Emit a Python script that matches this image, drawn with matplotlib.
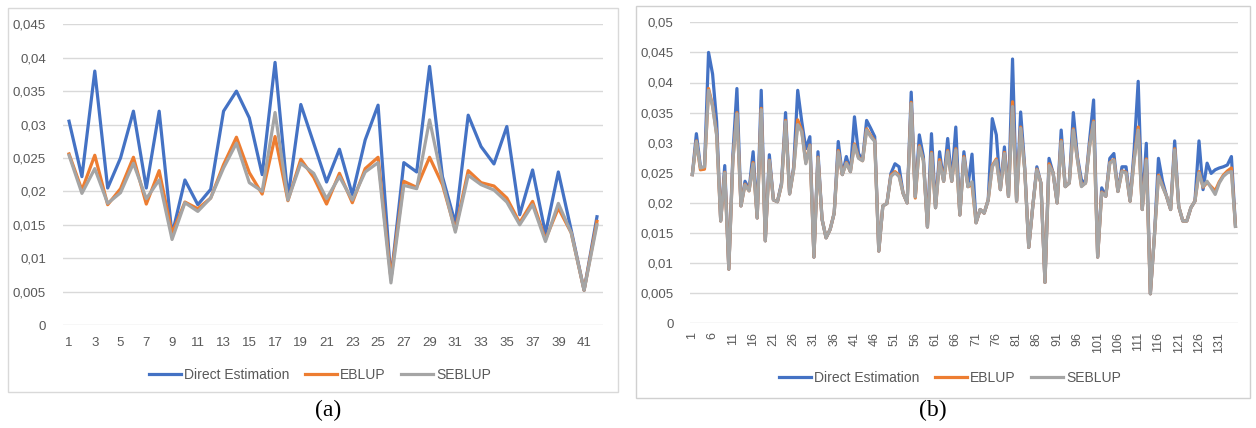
import numpy as np
import matplotlib
matplotlib.use("Agg")
import matplotlib.pyplot as plt
from matplotlib.patches import Rectangle
from matplotlib.ticker import FuncFormatter

plt.rcParams["font.family"] = ["Liberation Sans", "DejaVu Sans"]

# panel (a): 42 areas
a_direct = [0.0305, 0.0222, 0.0380, 0.0205, 0.0250, 0.0320, 0.0205, 0.0320, 0.0135, 0.0217,
            0.0180, 0.0203, 0.0320, 0.0350, 0.0310, 0.0225, 0.0393, 0.0190, 0.0330, 0.0272,
            0.0214, 0.0263, 0.0195, 0.0277, 0.0329, 0.0068, 0.0243, 0.0229, 0.0387, 0.0222,
            0.0152, 0.0314, 0.0267, 0.0241, 0.0297, 0.0165, 0.0232, 0.0137, 0.0229, 0.0142,
            0.0052, 0.0162]
a_eblup = [0.0256, 0.0202, 0.0254, 0.0180, 0.0204, 0.0251, 0.0181, 0.0231, 0.0137, 0.0184,
           0.0174, 0.0190, 0.0240, 0.0281, 0.0228, 0.0196, 0.0282, 0.0186, 0.0248, 0.0221,
           0.0181, 0.0227, 0.0183, 0.0234, 0.0251, 0.0070, 0.0215, 0.0206, 0.0251, 0.0210,
           0.0142, 0.0231, 0.0213, 0.0208, 0.0190, 0.0153, 0.0185, 0.0128, 0.0175, 0.0138,
           0.0052, 0.0155]
a_seblup = [0.0254, 0.0197, 0.0234, 0.0182, 0.0198, 0.0242, 0.0189, 0.0217, 0.0128, 0.0183,
            0.0170, 0.0190, 0.0235, 0.0272, 0.0213, 0.0200, 0.0318, 0.0187, 0.0242, 0.0227,
            0.0189, 0.0222, 0.0187, 0.0229, 0.0243, 0.0063, 0.0209, 0.0204, 0.0307, 0.0215,
            0.0139, 0.0224, 0.0210, 0.0202, 0.0184, 0.0150, 0.0180, 0.0125, 0.0182, 0.0138,
            0.0052, 0.0150]

# panel (b): 135 areas
b_direct = [0.0247, 0.0315, 0.0260, 0.0258, 0.0450, 0.0414, 0.0335, 0.0170, 0.0262, 0.0090,
            0.0280, 0.0390, 0.0195, 0.0236, 0.0222, 0.0285, 0.0175, 0.0387, 0.0137, 0.0280,
            0.0205, 0.0202, 0.0233, 0.0350, 0.0215, 0.0260, 0.0387, 0.0335, 0.0290, 0.0310,
            0.0110, 0.0285, 0.0173, 0.0142, 0.0156, 0.0183, 0.0302, 0.0247, 0.0277, 0.0252,
            0.0343, 0.0282, 0.0271, 0.0337, 0.0324, 0.0310, 0.0120, 0.0195, 0.0199, 0.0249,
            0.0265, 0.0260, 0.0216, 0.0200, 0.0384, 0.0210, 0.0313, 0.0277, 0.0160, 0.0315,
            0.0192, 0.0285, 0.0236, 0.0307, 0.0236, 0.0326, 0.0180, 0.0285, 0.0227, 0.0281,
            0.0167, 0.0189, 0.0183, 0.0205, 0.0340, 0.0313, 0.0222, 0.0293, 0.0211, 0.0439,
            0.0203, 0.0351, 0.0260, 0.0126, 0.0195, 0.0260, 0.0233, 0.0068, 0.0274, 0.0250,
            0.0200, 0.0321, 0.0227, 0.0233, 0.0350, 0.0277, 0.0238, 0.0233, 0.0304, 0.0371,
            0.0110, 0.0225, 0.0211, 0.0274, 0.0282, 0.0219, 0.0260, 0.0260, 0.0203, 0.0288,
            0.0402, 0.0189, 0.0299, 0.0049, 0.0145, 0.0274, 0.0236, 0.0211, 0.0189, 0.0303,
            0.0194, 0.0170, 0.0170, 0.0192, 0.0203, 0.0303, 0.0222, 0.0266, 0.0249, 0.0255,
            0.0258, 0.0260, 0.0263, 0.0277, 0.0161]
b_eblup = [0.0247, 0.0303, 0.0255, 0.0256, 0.0390, 0.0362, 0.0314, 0.0170, 0.0251, 0.0090,
           0.0271, 0.0350, 0.0195, 0.0231, 0.0220, 0.0267, 0.0175, 0.0357, 0.0137, 0.0271,
           0.0205, 0.0202, 0.0230, 0.0337, 0.0215, 0.0256, 0.0338, 0.0320, 0.0267, 0.0296,
           0.0110, 0.0276, 0.0173, 0.0142, 0.0156, 0.0183, 0.0287, 0.0247, 0.0267, 0.0252,
           0.0298, 0.0275, 0.0270, 0.0323, 0.0312, 0.0303, 0.0120, 0.0195, 0.0199, 0.0246,
           0.0252, 0.0246, 0.0216, 0.0200, 0.0367, 0.0208, 0.0295, 0.0271, 0.0160, 0.0284,
           0.0192, 0.0272, 0.0236, 0.0287, 0.0236, 0.0290, 0.0180, 0.0277, 0.0227, 0.0230,
           0.0167, 0.0189, 0.0183, 0.0205, 0.0262, 0.0273, 0.0222, 0.0284, 0.0211, 0.0368,
           0.0203, 0.0326, 0.0256, 0.0126, 0.0195, 0.0256, 0.0233, 0.0068, 0.0265, 0.0250,
           0.0200, 0.0304, 0.0227, 0.0233, 0.0323, 0.0273, 0.0228, 0.0233, 0.0295, 0.0336,
           0.0110, 0.0218, 0.0211, 0.0267, 0.0272, 0.0219, 0.0253, 0.0251, 0.0203, 0.0273,
           0.0326, 0.0189, 0.0273, 0.0049, 0.0145, 0.0246, 0.0228, 0.0211, 0.0189, 0.0290,
           0.0194, 0.0170, 0.0170, 0.0192, 0.0203, 0.0252, 0.0226, 0.0234, 0.0227, 0.0220,
           0.0235, 0.0246, 0.0253, 0.0258, 0.0161]
b_seblup = [0.0247, 0.0302, 0.0258, 0.0260, 0.0387, 0.0360, 0.0312, 0.0170, 0.0250, 0.0090,
            0.0270, 0.0348, 0.0195, 0.0230, 0.0220, 0.0265, 0.0175, 0.0355, 0.0137, 0.0270,
            0.0205, 0.0202, 0.0230, 0.0335, 0.0215, 0.0255, 0.0330, 0.0318, 0.0265, 0.0295,
            0.0110, 0.0275, 0.0173, 0.0142, 0.0156, 0.0183, 0.0285, 0.0247, 0.0266, 0.0252,
            0.0296, 0.0274, 0.0270, 0.0321, 0.0310, 0.0302, 0.0120, 0.0195, 0.0199, 0.0244,
            0.0250, 0.0244, 0.0216, 0.0200, 0.0365, 0.0210, 0.0293, 0.0270, 0.0160, 0.0282,
            0.0192, 0.0268, 0.0236, 0.0285, 0.0236, 0.0288, 0.0180, 0.0275, 0.0227, 0.0235,
            0.0167, 0.0189, 0.0183, 0.0205, 0.0260, 0.0271, 0.0222, 0.0282, 0.0211, 0.0360,
            0.0203, 0.0324, 0.0255, 0.0126, 0.0195, 0.0255, 0.0233, 0.0068, 0.0262, 0.0250,
            0.0200, 0.0302, 0.0227, 0.0233, 0.0321, 0.0272, 0.0227, 0.0233, 0.0293, 0.0334,
            0.0110, 0.0217, 0.0211, 0.0266, 0.0271, 0.0219, 0.0252, 0.0250, 0.0203, 0.0271,
            0.0321, 0.0189, 0.0271, 0.0049, 0.0145, 0.0244, 0.0227, 0.0211, 0.0189, 0.0288,
            0.0194, 0.0170, 0.0170, 0.0192, 0.0203, 0.0250, 0.0227, 0.0236, 0.0225, 0.0214,
            0.0233, 0.0244, 0.0250, 0.0252, 0.0161]

series_names = ["Direct Estimation", "EBLUP", "SEBLUP"]
colors = ["#4472C4", "#ED7D31", "#A5A5A5"]
TXT = "#595959"
GRID = "#D9D9D9"

W, H = 1256, 428
fig = plt.figure(figsize=(W / 100, H / 100), dpi=100)
fig.patch.set_facecolor("white")


def px_axes(x0, y0, x1, y1):
    # pixel box (top-left origin) -> figure axes
    return fig.add_axes([x0 / W, 1 - y1 / H, (x1 - x0) / W, (y1 - y0) / H])


def comma_fmt(v, pos):
    return f"{round(v, 4):g}".replace(".", ",")


def style(ax, ymax):
    ax.set_ylim(0, ymax)
    ax.set_yticks(np.round(np.arange(0, ymax + 1e-9, 0.005), 3))
    ax.yaxis.set_major_formatter(FuncFormatter(comma_fmt))
    ax.grid(axis="y", color=GRID, lw=1)
    ax.set_axisbelow(True)
    for s in ax.spines.values():
        s.set_visible(False)
    ax.tick_params(length=0, colors=TXT, labelsize=9.5)
    ax.tick_params(axis="y", pad=12)


def add_legend(ax, cx, cy):
    ax.legend(loc="center", bbox_to_anchor=(cx / W, 1 - cy / H), bbox_transform=fig.transFigure,
              ncol=3, frameon=False, fontsize=10, handlelength=2.3, columnspacing=1.1,
              handletextpad=0.25, labelcolor=TXT)


# panel frames
fig.patches.append(Rectangle((8 / W, 1 - 392 / H), 610 / W, 384 / H, transform=fig.transFigure,
                             fill=False, ec=GRID, lw=1))
fig.patches.append(Rectangle((636 / W, 1 - 398 / H), 614 / W, 392 / H, transform=fig.transFigure,
                             fill=False, ec="#D0D0D0", lw=1))

# (a)
ax1 = px_axes(62.6, 24.3, 603.4, 325)
xa = np.arange(1, len(a_direct) + 1)
for vals, name, c in zip([a_direct, a_eblup, a_seblup], series_names, colors):
    ax1.plot(xa, vals, color=c, lw=2.3, label=name)
ax1.set_xlim(0.5, len(a_direct) + 0.5)
ax1.set_xticks(xa[::2])
style(ax1, 0.045)
ax1.tick_params(axis="x", pad=9)
add_legend(ax1, 320, 375)

# (b)
ax2 = px_axes(690.3, 22.3, 1237.5, 323.3)
xb = np.arange(1, len(b_direct) + 1)
for vals, name, c in zip([b_direct, b_eblup, b_seblup], series_names, colors):
    ax2.plot(xb, vals, color=c, lw=2.3, label=name)
ax2.set_xlim(0.5, len(b_direct) + 0.5)
ax2.set_xticks(xb[::5])
style(ax2, 0.05)
ax2.tick_params(axis="x", rotation=90, pad=6, labelsize=9)
add_legend(ax2, 950, 378)

fig.text(328 / W, 1 - 410 / H, "(a)", ha="center", va="center", fontsize=17,
         family="Liberation Serif")
fig.text(933 / W, 1 - 410 / H, "(b)", ha="center", va="center", fontsize=17,
         family="Liberation Serif")

fig.savefig("out.png", dpi=100)
